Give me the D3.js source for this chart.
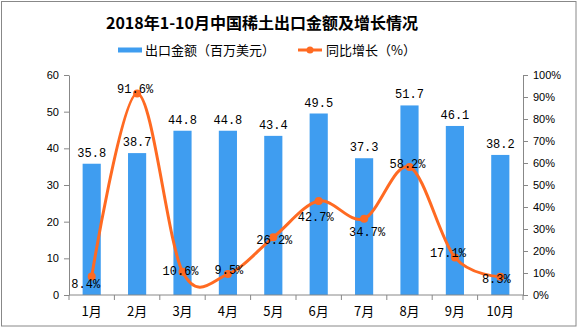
<!DOCTYPE html>
<html>
<head>
<meta charset="utf-8">
<script src="https://cdn.jsdelivr.net/npm/d3@7"></script>
<style>
  body { margin: 0; background: #fff; }
  #container { width: 577px; height: 327px; }
  .axisText text { font-family: "Liberation Sans", Arial, sans-serif; font-size: 11px; fill: #000; }
  .axisText path, .axisText line { stroke: #888; }
</style>
</head>
<body>
<div id="container"></div>
<script>
// months, export value (million USD), yoy growth (%)
const months = ["1月", "2月", "3月", "4月", "5月", "6月", "7月", "8月", "9月", "10月"];
const exportValue = [35.8, 38.7, 44.8, 44.8, 43.4, 49.5, 37.3, 51.7, 46.1, 38.2];
const growth = [8.4, 91.6, 10.6, 9.5, 26.2, 42.7, 34.7, 58.2, 17.1, 8.3];
const leftTicks = [0, 10, 20, 30, 40, 50, 60];
const rightTicks = [0, 10, 20, 30, 40, 50, 60, 70, 80, 90, 100];

// where each % label sits relative to its point (vertical nudge, px)
const growthLabelDy = [7, -4, -1, -4, 3, 16, 13, -3, -4, 2];
const growthLabelDx = [-6, -2, -2, 1, 1, -3, 3, -2, -7, -4];

const width = 577, height = 327;
const margin = { top: 75, right: 54, bottom: 32, left: 69 };
const innerW = width - margin.left - margin.right;
const innerH = height - margin.top - margin.bottom;

const blue = "#3f9df0";
const orange = "#ff6a22";

const svg = d3.select("#container")
  .append("svg")
  .attr("width", width)
  .attr("height", height);

// outer frame
svg.append("rect")
  .attr("x", 1.5).attr("y", 1.5)
  .attr("width", width - 2.5).attr("height", height - 2.5)
  .attr("fill", "none").attr("stroke", "#888");

// title
svg.append("text")
  .attr("x", 262).attr("y", 29)
  .attr("text-anchor", "middle")
  .style("font-family", "'Noto Sans CJK SC', sans-serif")
  .style("font-weight", "bold")
  .style("font-size", "16px")
  .text("2018年1-10月中国稀土出口金额及增长情况");

// legend
const legend = svg.append("g").style("font-family", "'Noto Sans CJK SC', sans-serif").style("font-size", "13px");
legend.append("rect").attr("x", 118).attr("y", 47.5).attr("width", 24).attr("height", 5).attr("fill", blue);
legend.append("text").attr("x", 145).attr("y", 55).text("出口金额（百万美元）");
legend.append("line").attr("x1", 298).attr("x2", 322).attr("y1", 50).attr("y2", 50)
  .attr("stroke", orange).attr("stroke-width", 3);
legend.append("circle").attr("cx", 310).attr("cy", 50).attr("r", 3.5).attr("fill", orange);
legend.append("text").attr("x", 326).attr("y", 55).text("同比增长（%）");

const g = svg.append("g").attr("transform", `translate(${margin.left},${margin.top})`);

const x = d3.scaleBand().domain(months).range([0, innerW]).paddingInner(0.6).paddingOuter(0.3);
const step = x.step();
const y = d3.scaleLinear().domain([0, 60]).range([innerH, 0]);
const y2 = d3.scaleLinear().domain([0, 100]).range([innerH, 0]);

// bars
g.append("g").selectAll("rect")
  .data(exportValue)
  .enter()
  .append("rect")
  .attr("x", (d, i) => x(months[i]))
  .attr("y", d => y(d))
  .attr("width", x.bandwidth())
  .attr("height", d => innerH - y(d))
  .attr("fill", blue);

// axes
g.append("g").attr("class", "axisText")
  .call(d3.axisLeft(y).tickValues(leftTicks).tickSize(5).tickSizeOuter(0).tickPadding(5));

g.append("g").attr("class", "axisText")
  .attr("transform", `translate(${innerW},0)`)
  .call(d3.axisRight(y2).tickValues(rightTicks).tickSize(5).tickSizeOuter(0).tickPadding(5).tickFormat(d => d + "%"));

// x axis with ticks between categories
const xAxis = g.append("g").attr("class", "axisText").attr("transform", `translate(0,${innerH})`);
xAxis.append("line").attr("x1", 0).attr("x2", innerW).attr("stroke", "#888");
xAxis.selectAll(".tk")
  .data(d3.range(months.length + 1))
  .enter()
  .append("line")
  .attr("x1", i => i * step).attr("x2", i => i * step)
  .attr("y1", 0).attr("y2", 5)
  .attr("stroke", "#888");
xAxis.selectAll(".lbl")
  .data(months)
  .enter()
  .append("text")
  .attr("x", d => x(d) + x.bandwidth() / 2)
  .attr("y", 21)
  .attr("text-anchor", "middle")
  .style("font-family", "'Noto Sans CJK SC', sans-serif")
  .style("font-size", "13px")
  .text(d => d);

// bar value labels
g.append("g").selectAll("text")
  .data(exportValue)
  .enter()
  .append("text")
  .attr("x", (d, i) => x(months[i]) + x.bandwidth() / 2)
  .attr("y", d => y(d) - 7)
  .attr("text-anchor", "middle")
  .style("font-family", "'Liberation Mono', monospace")
  .style("font-size", "12px")
  .text(d => d.toFixed(1));

// growth line
const cx = i => x(months[i]) + x.bandwidth() / 2;
const line = d3.line()
  .x((d, i) => cx(i))
  .y(d => y2(d))
  .curve(d3.curveCardinal.tension(0));

g.append("path")
  .datum(growth)
  .attr("d", line)
  .attr("fill", "none")
  .attr("stroke", orange)
  .attr("stroke-width", 3);

g.append("g").selectAll("circle")
  .data(growth)
  .enter()
  .append("circle")
  .attr("cx", (d, i) => cx(i))
  .attr("cy", d => y2(d))
  .attr("r", 4)
  .attr("fill", orange);

g.append("g").selectAll("text")
  .data(growth)
  .enter()
  .append("text")
  .attr("x", (d, i) => cx(i) + growthLabelDx[i])
  .attr("y", (d, i) => y2(d) + growthLabelDy[i] + 4)
  .attr("text-anchor", "middle")
  .style("font-family", "'Liberation Mono', monospace")
  .style("font-size", "12px")
  .text(d => d.toFixed(1) + "%");
</script>
</body>
</html>
